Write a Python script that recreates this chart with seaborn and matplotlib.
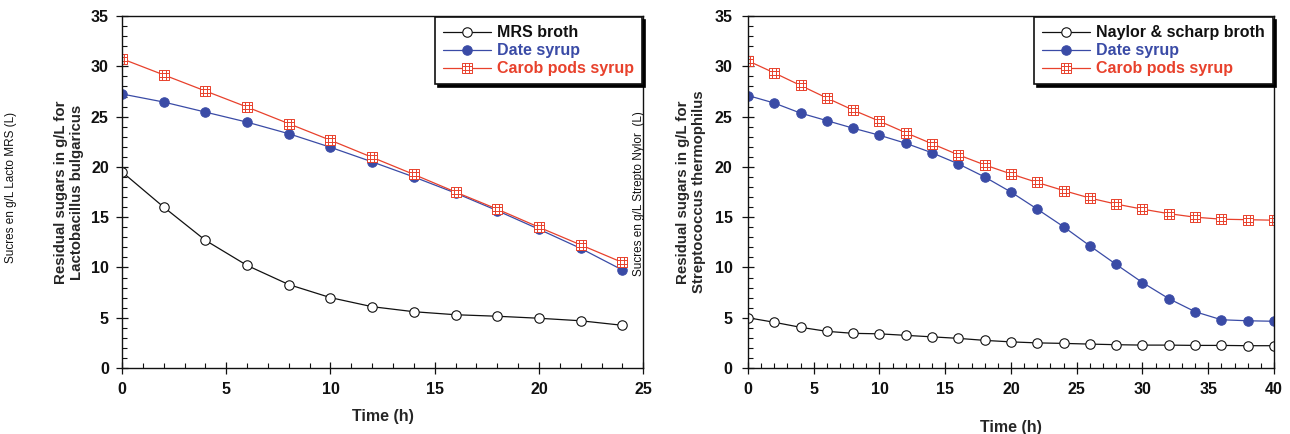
import matplotlib
matplotlib.use("Agg")
import matplotlib.pyplot as plt
import numpy as np
import pandas as pd
import seaborn as sns
from matplotlib.path import Path

# --- data ------------------------------------------------------------------
time_lacto = [0, 2, 4, 6, 8, 10, 12, 14, 16, 18, 20, 22, 24]
mrs_broth = [19.5, 16.0, 12.7, 10.2, 8.3, 7.0, 6.1, 5.6, 5.3, 5.15, 4.95, 4.7, 4.25]
date_lacto = [27.25, 26.45, 25.45, 24.45, 23.3, 21.95, 20.5, 19.0, 17.4, 15.65, 13.8, 11.9, 9.75]
carob_lacto = [30.75, 29.15, 27.55, 25.95, 24.3, 22.65, 20.95, 19.25, 17.5, 15.8, 14.0, 12.25, 10.5]

time_strepto = [0, 2, 4, 6, 8, 10, 12, 14, 16, 18, 20, 22, 24, 26, 28, 30, 32, 34, 36, 38, 40]
naylor_broth = [5.0, 4.55, 4.05, 3.65, 3.45, 3.4, 3.25, 3.1, 2.95, 2.75, 2.6, 2.5, 2.45, 2.38,
                2.32, 2.28, 2.28, 2.25, 2.25, 2.22, 2.22]
date_strepto = [27.1, 26.35, 25.35, 24.6, 23.85, 23.15, 22.35, 21.4, 20.3, 19.0, 17.5, 15.8,
                14.05, 12.15, 10.3, 8.5, 6.9, 5.6, 4.8, 4.7, 4.65]
carob_strepto = [30.55, 29.35, 28.1, 26.85, 25.65, 24.55, 23.4, 22.3, 21.2, 20.2, 19.3, 18.45,
                 17.65, 16.9, 16.3, 15.8, 15.35, 15.0, 14.8, 14.75, 14.7]

lacto_labels = ["MRS broth", "Date syrup", "Carob pods syrup"]
strepto_labels = ["Naylor & scharp broth", "Date syrup", "Carob pods syrup"]

BLACK = "#111111"
BLUE = "#3a4ba6"
RED = "#e8412c"

# square with a 3x3 grid inside, like the original carob marker
verts = [(-1, -1), (1, -1), (1, 1), (-1, 1), (-1, -1),
         (-1 / 3, -1), (-1 / 3, 1), (1 / 3, -1), (1 / 3, 1),
         (-1, -1 / 3), (1, -1 / 3), (-1, 1 / 3), (1, 1 / 3)]
codes = [Path.MOVETO, Path.LINETO, Path.LINETO, Path.LINETO, Path.CLOSEPOLY,
         Path.MOVETO, Path.LINETO, Path.MOVETO, Path.LINETO,
         Path.MOVETO, Path.LINETO, Path.MOVETO, Path.LINETO]
GRID_SQUARE = Path(verts, codes)

sns.set_theme(style="ticks")
plt.rcParams["font.family"] = ["Liberation Sans", "DejaVu Sans"]
plt.rcParams["axes.linewidth"] = 1.0


def draw_panel(ax, time, series, labels, xmax, xlabel_y, ylabel, ylabel_x, ypad):
    styles = [
        dict(color=BLACK, marker="o", markersize=6.8, markerfacecolor="white",
             markeredgecolor=BLACK, markeredgewidth=0.8),
        dict(color=BLUE, marker="o", markersize=6.8, markerfacecolor=BLUE,
             markeredgecolor=BLUE),
        dict(color=RED, marker=GRID_SQUARE, markersize=7, markerfacecolor="white",
             markeredgecolor=RED, markeredgewidth=0.7),
    ]
    for values, label, style in zip(series, labels, styles):
        frame = pd.DataFrame({"time": time, "sugar": values})
        sns.lineplot(data=frame, x="time", y="sugar", ax=ax, label=label,
                     linewidth=0.9, **style)

    ax.set_xlim(0, xmax)
    ax.set_ylim(0, 35)
    ax.set_xticks(np.arange(0, xmax + 1, 5))
    ax.set_xticks(np.arange(0, xmax + 1, 1), minor=True)
    ax.set_yticks(np.arange(0, 36, 5))
    ax.set_yticks(np.arange(0, 36, 1), minor=True)
    ax.tick_params(which="major", direction="inout", length=9, width=0.9,
                   labelsize=11.5, colors=BLACK)
    ax.tick_params(axis="x", which="major", pad=5.5)
    ax.tick_params(axis="y", which="major", pad=ypad)
    ax.tick_params(which="minor", direction="in", length=3.5, width=0.8, colors=BLACK)
    for lab in ax.get_xticklabels() + ax.get_yticklabels():
        lab.set_fontweight("bold")
    for side in ["top", "right"]:
        ax.spines[side].set_visible(True)
    for spine in ax.spines.values():
        spine.set_color(BLACK)

    ax.set_xlabel("Time (h)", fontsize=11.5, fontweight="bold")
    ax.xaxis.set_label_coords(0.5, xlabel_y)
    ax.set_ylabel(ylabel, fontsize=10.8, fontweight="bold", linespacing=1.15)
    ax.yaxis.set_label_coords(ylabel_x, 0.5)

    leg = ax.legend(loc="upper right", bbox_to_anchor=(0.998, 0.997), borderaxespad=0,
                    fancybox=False, framealpha=1, edgecolor=BLACK,
                    shadow={"color": "black", "alpha": 1},
                    prop={"weight": "bold", "size": 11.5}, labelcolor="linecolor",
                    handlelength=3.0, handletextpad=0.4, labelspacing=0.2,
                    borderpad=0.5)
    leg.get_frame().set_linewidth(1.2)


fig = plt.figure(figsize=(12.9, 4.34), dpi=100)
ax_left = fig.add_axes([0.0946, 0.152, 0.404, 0.811])
ax_right = fig.add_axes([0.5798, 0.152, 0.4078, 0.811])

draw_panel(ax_left, time_lacto, [mrs_broth, date_lacto, carob_lacto], lacto_labels, 25,
           -0.115, "Residual sugars in g/L for\nLactobacillus bulgaricus", -0.073, 5)
draw_panel(ax_right, time_strepto, [naylor_broth, date_strepto, carob_strepto], strepto_labels,
           40, -0.148, "Residual sugars in g/L for\nStreptococcus thermophilus", -0.080, 6.5)

fig.text(0.0085, 0.567, "Sucres en g/L Lacto MRS (L)", rotation=90, ha="center",
         va="center", fontsize=8.5, color=BLACK)
fig.text(0.4955, 0.555, "Sucres en g/L Strepto Nylor  (L)", rotation=90, ha="center",
         va="center", fontsize=8.5, color=BLACK)

fig.savefig("out.png", dpi=100)
